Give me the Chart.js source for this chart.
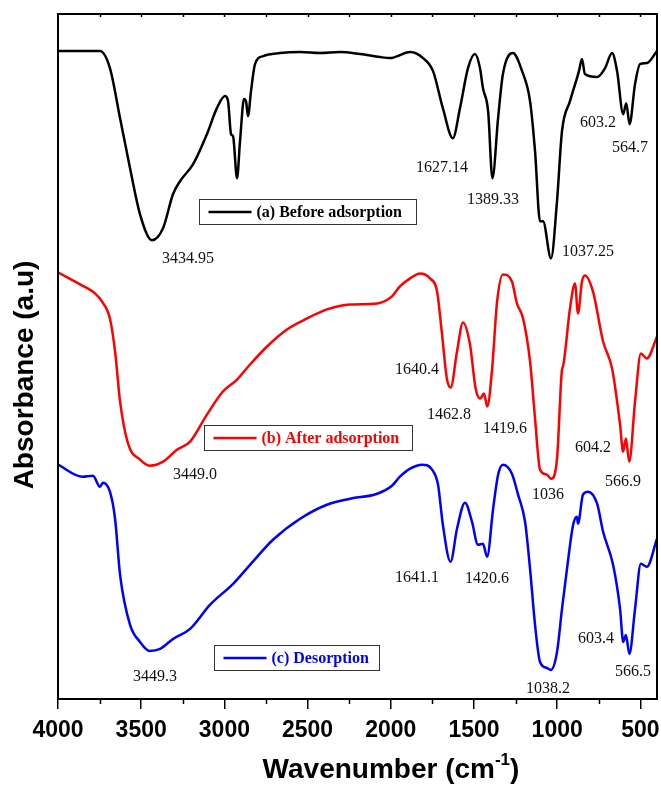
<!DOCTYPE html>
<html>
<head>
<meta charset="utf-8">
<script src="https://cdn.jsdelivr.net/npm/chart.js@4.4.1/dist/chart.umd.min.js"></script>
<style>
  html, body { margin: 0; padding: 0; background: #fff; }
  #wrap { width: 661px; height: 791px; }
</style>
</head>
<body>
<div id="wrap"><canvas id="ftir"></canvas></div>
<script>
// FTIR spectra, absorbance in arbitrary units (curves are stacked)
const waveA = [4000,3748,3688,3627,3567,3507,3435,3369,3309,3267,3188,3105,3045,2996,2978,2960,2948,2924,2906,2882,2870,2858,2840,2816,2767,2666,2545,2425,2305,2185,2064,2005,1884,1806,1746,1687,1627,1584,1536,1494,1464,1446,1415,1389,1355,1326,1266,1211,1163,1133,1103,1085,1037,1001,971,923,869,851,833,760,712,670,640,603,585,565,532,502,461,400];
const absA  = [647,647,630,580,530,484,458,470,504,517,534,564,590,602,597,564,562,520,557,599,597,582,607,634,642,645,646,645,646,644,641,640,646,640,627,590,560,590,630,644,630,610,587,520,580,624,645,627,597,547,477,477,440,497,567,597,627,639,624,621,630,645,627,584,595,574,614,634,635,647];

const waveB = [4000,3867,3778,3736,3688,3657,3627,3579,3507,3449,3369,3285,3206,3105,3009,2924,2846,2744,2624,2503,2384,2245,2082,1993,1945,1884,1824,1764,1722,1692,1663,1640,1602,1566,1524,1490,1463,1440,1420,1391,1361,1326,1272,1242,1205,1163,1133,1103,1062,1036,1001,971,965,923,893,875,851,833,785,724,670,622,604,587,567,532,497,461,400];
const absB  = [426,414,405,397,380,347,297,255,239,233,237,249,257,284,307,319,334,352,369,380,389,394,395,402,412,420,425,420,407,364,320,311,347,376,354,310,300,305,292,330,397,424,417,395,380,337,280,229,224,220,240,329,332,390,415,385,417,423,407,357,330,274,247,260,237,297,345,340,362];

const waveC = [4000,3855,3790,3748,3730,3688,3657,3627,3567,3507,3449,3387,3309,3206,3087,2948,2846,2708,2545,2384,2245,2082,1993,1945,1884,1812,1752,1716,1687,1641,1602,1554,1512,1476,1446,1421,1385,1355,1326,1272,1235,1193,1163,1133,1103,1062,1038,1001,971,941,904,881,875,845,815,760,724,664,622,603,587,566,532,497,461,400];
const absC  = [234,222,223,212,216,207,180,124,74,57,48,50,60,70,94,115,134,159,180,194,200,205,213,222,230,234,229,214,174,137,170,196,177,154,155,142,190,224,234,225,204,177,130,74,37,31,29,47,90,130,174,182,175,204,207,195,167,134,90,57,64,45,90,135,132,160];

const seriesNames = ['(a) Before adsorption', '(b) After adsorption', '(c) Desorption'];
const seriesColors = ['#000000', '#ff0000', '#0000ff'];
const xTicks = [4000, 3500, 3000, 2500, 2000, 1500, 1000, 500];
const xMinorTicks = [3750, 3250, 2750, 2250, 1750, 1250, 750];

// peak labels: [text, wavenumber anchor, absorbance anchor]
const peakLabels = [
  ['3434.95', 3219, 440], ['1627.14', 1692, 530], ['1389.33', 1386, 498],
  ['1037.25', 815, 447], ['603.2', 755, 575], ['564.7', 562, 550],
  ['3449.0', 3177, 224], ['1640.4', 1842, 329], ['1462.8', 1650, 284],
  ['1419.6', 1314, 270], ['1036', 1055, 204], ['604.2', 785, 251], ['566.9', 604, 217],
  ['3449.3', 3417, 22], ['1641.1', 1842, 121], ['1420.6', 1422, 120],
  ['1038.2', 1055, 10], ['603.4', 767, 60], ['566.5', 544, 27]
];

// legend boxes: [wavenumber of left edge, absorbance of top edge, width px]
const legendBoxes = [
  [3150, 499, 217],
  [3120, 274, 208],
  [3060, 54, 165]
];

function toPoints(xs, ys) {
  return xs.map((x, i) => ({ x: x, y: ys[i] }));
}

const extras = {
  id: 'extras',
  afterDraw(chart) {
    const ctx = chart.ctx;
    const a = chart.chartArea;
    const xs = chart.scales.x;
    const ys = chart.scales.y;
    ctx.save();
    // frame
    ctx.strokeStyle = '#000';
    ctx.lineWidth = 2;
    ctx.strokeRect(a.left, a.top, a.right - a.left, a.bottom - a.top);
    // minor ticks bottom, small ticks on top
    ctx.lineWidth = 1.5;
    ctx.beginPath();
    xMinorTicks.forEach(v => {
      const px = Math.round(xs.getPixelForValue(v)) + 0.5;
      ctx.moveTo(px, a.bottom);
      ctx.lineTo(px, a.bottom + 5);
    });
    xTicks.concat(xMinorTicks).forEach(v => {
      const px = Math.round(xs.getPixelForValue(v)) + 0.5;
      if (px <= a.left + 1) return;
      ctx.moveTo(px, a.top);
      ctx.lineTo(px, a.top + 3);
    });
    ctx.stroke();

    // peak labels
    ctx.fillStyle = '#111';
    ctx.font = '16px "Liberation Serif", "Times New Roman", serif';
    ctx.textAlign = 'center';
    ctx.textBaseline = 'middle';
    peakLabels.forEach(p => {
      ctx.fillText(p[0], xs.getPixelForValue(p[1]), ys.getPixelForValue(p[2]));
    });

    // legend boxes
    ctx.font = 'bold 16px "Liberation Serif", "Times New Roman", serif';
    ctx.textAlign = 'left';
    legendBoxes.forEach((b, i) => {
      const bx = Math.round(xs.getPixelForValue(b[0])) + 0.5;
      const by = Math.round(ys.getPixelForValue(b[1])) + 0.5;
      const bw = b[2], bh = 25;
      ctx.fillStyle = '#fff';
      ctx.fillRect(bx, by, bw, bh);
      ctx.strokeStyle = '#333';
      ctx.lineWidth = 1;
      ctx.strokeRect(bx, by, bw, bh);
      ctx.strokeStyle = seriesColors[i];
      ctx.lineWidth = 2.5;
      ctx.beginPath();
      ctx.moveTo(bx + 9, by + bh / 2);
      ctx.lineTo(bx + 52, by + bh / 2);
      ctx.stroke();
      ctx.fillStyle = seriesColors[i];
      ctx.fillText(seriesNames[i], bx + 57, by + bh / 2 + 1);
    });

    // axis titles
    ctx.fillStyle = '#000';
    ctx.font = 'bold 28px "Liberation Sans", Arial, sans-serif';
    ctx.textAlign = 'left';
    ctx.textBaseline = 'alphabetic';
    const t1 = 'Wavenumber (cm', sup = '-1', t2 = ')';
    const w1 = ctx.measureText(t1).width;
    const w3 = ctx.measureText(t2).width;
    ctx.font = 'bold 17px "Liberation Sans", Arial, sans-serif';
    const w2 = ctx.measureText(sup).width;
    const total = w1 + w2 + w3;
    let tx = 391 - total / 2;
    const ty = 778;
    ctx.font = 'bold 28px "Liberation Sans", Arial, sans-serif';
    ctx.fillText(t1, tx, ty);
    ctx.font = 'bold 17px "Liberation Sans", Arial, sans-serif';
    ctx.fillText(sup, tx + w1, ty - 13);
    ctx.font = 'bold 28px "Liberation Sans", Arial, sans-serif';
    ctx.fillText(t2, tx + w1 + w2, ty);

    ctx.translate(25, 375);
    ctx.rotate(-Math.PI / 2);
    ctx.textAlign = 'center';
    ctx.textBaseline = 'middle';
    ctx.fillText('Absorbance (a.u)', 0, 0);
    ctx.restore();
  }
};

new Chart(document.getElementById('ftir'), {
  type: 'line',
  data: {
    datasets: [
      { label: seriesNames[0], data: toPoints(waveA, absA), borderColor: seriesColors[0] },
      { label: seriesNames[1], data: toPoints(waveB, absB), borderColor: seriesColors[1] },
      { label: seriesNames[2], data: toPoints(waveC, absC), borderColor: seriesColors[2] }
    ]
  },
  options: {
    responsive: true,
    maintainAspectRatio: false,
    animation: false,
    devicePixelRatio: 1,
    layout: { padding: { top: 14, right: 4, left: 0, bottom: 0 } },
    elements: {
      line: { borderWidth: 2.5, cubicInterpolationMode: 'monotone', fill: false },
      point: { radius: 0 }
    },
    scales: {
      x: {
        type: 'linear',
        reverse: true,
        min: 400,
        max: 4000,
        afterBuildTicks: s => { s.ticks = xTicks.map(v => ({ value: v })); },
        afterFit: s => { s.height = 92; s.paddingLeft = 0; s.paddingRight = 0; },
        grid: { drawOnChartArea: false, drawTicks: true, tickLength: 10, color: '#000', lineWidth: 1.5 },
        border: { display: true, color: '#000', width: 2 },
        ticks: {
          color: '#000',
          padding: 8,
          maxRotation: 0,
          autoSkip: false,
          callback: v => String(v),
          font: { family: '"Liberation Sans", Arial, sans-serif', size: 23, weight: 'bold' }
        }
      },
      y: {
        min: 0,
        max: 684,
        afterFit: s => { s.width = 58; },
        grid: { display: false },
        border: { display: true, color: '#000', width: 2 },
        ticks: { display: false }
      }
    },
    plugins: {
      legend: { display: false },
      tooltip: { enabled: false }
    }
  },
  plugins: [extras]
});
</script>
</body>
</html>
